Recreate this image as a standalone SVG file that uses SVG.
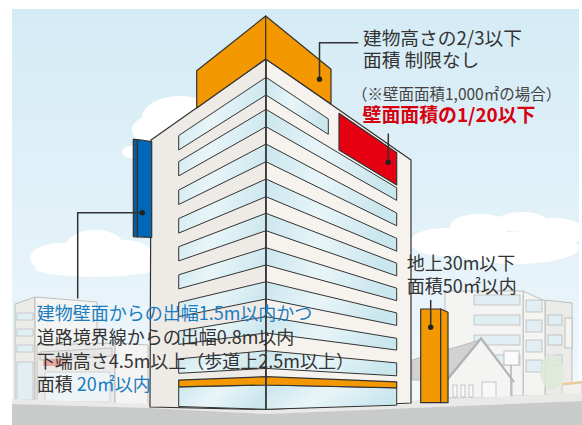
<svg xmlns="http://www.w3.org/2000/svg" width="582" height="425" viewBox="0 0 582 425">
<defs>
<linearGradient id="sky" x1="0" y1="0" x2="0" y2="1">
<stop offset="0" stop-color="#d4ebf5"/>
<stop offset="0.7" stop-color="#e8f4fa"/>
<stop offset="1" stop-color="#f4f9fc"/>
</linearGradient>
<linearGradient id="glass" x1="0" y1="0" x2="1" y2="0.3">
<stop offset="0" stop-color="#c9e6ed"/>
<stop offset="0.5" stop-color="#e8f5f8"/>
<stop offset="1" stop-color="#cbe7ee"/>
</linearGradient>
<style>
.ol{stroke:#333;stroke-width:1.2;stroke-linejoin:round}
.wl{fill:#eeeae5}
.wr{fill:#f6f3ef}
.gl{fill:url(#glass);stroke:#333;stroke-width:1;stroke-linejoin:round}
.org{fill:#f39800;stroke:#333;stroke-width:1.2;stroke-linejoin:round}
.bg{fill:#ebebea;stroke:#b3b3b3;stroke-width:0.8}
.bgw{fill:#f4f4f3;stroke:#b3b3b3;stroke-width:0.8}
.cl{fill:#ffffff}
.lead{fill:none;stroke:#333;stroke-width:1.5}
.dot{fill:#222}
.t{font-family:"Noto Sans CJK JP","Noto Sans",sans-serif;font-size:18px;fill:#333}
.tr{font-size:18.7px}
.s{font-size:15.5px;fill:#444}
.blue{fill:#1a7cc1}
.red{fill:#d7000f;font-weight:700;font-size:18.9px}
</style>
</defs>

<g id="background">
<rect x="12" y="9" width="567" height="416" fill="url(#sky)"/>
<g id="clouds">
<ellipse class="cl" cx="180" cy="118" rx="38" ry="22"/>
<ellipse class="cl" cx="152" cy="130" rx="20" ry="14"/>
<ellipse class="cl" cx="131" cy="152" rx="9" ry="6"/>
<ellipse class="cl" cx="60" cy="258" rx="30" ry="15"/>
<ellipse class="cl" cx="95" cy="248" rx="30" ry="18"/>
<ellipse class="cl" cx="125" cy="256" rx="28" ry="16"/>
<ellipse class="cl" cx="95" cy="268" rx="60" ry="9"/>
<ellipse class="cl" cx="480" cy="226" rx="30" ry="12"/>
<ellipse class="cl" cx="522" cy="222" rx="26" ry="10"/>
<ellipse class="cl" cx="555" cy="232" rx="30" ry="14"/>
<ellipse class="cl" cx="445" cy="242" rx="35" ry="14"/>
<ellipse class="cl" cx="515" cy="248" rx="64" ry="16"/>
</g>
<g id="bg-right">
<polygon class="bg" points="545,300 572,303 572,395 545,395"/>
<rect class="bgw" x="565" y="318" width="7" height="30"/>
<polygon class="bgw" points="523,291 545,301 545,396 523,396"/>
<polygon class="bgw" points="445,291 523,291 523,396 445,396"/>
<g fill="#e1eef3" stroke="#b3b3b3" stroke-width="0.7">
<rect x="474" y="295" width="46" height="10"/>
<rect x="474" y="315" width="46" height="10"/>
<rect x="474" y="335" width="46" height="10"/>
<rect x="474" y="355" width="46" height="10"/>
<rect x="526" y="300" width="16" height="12"/>
<rect x="526" y="320" width="16" height="12"/>
<rect x="526" y="340" width="16" height="12"/>
<rect x="526" y="360" width="16" height="12"/>
<rect x="548" y="315" width="14" height="10"/>
<rect x="548" y="335" width="14" height="10"/>
<rect x="548" y="355" width="14" height="10"/>
</g>
<polygon fill="#d2d2d2" stroke="#b3b3b3" stroke-width="0.8" points="412,360 470,343 480,340 448,380 412,380"/>
<polygon class="bgw" points="448,380 481,340 512,380 512,398 448,398"/>
<polyline fill="none" stroke="#b3b3b3" stroke-width="2" points="445,382 481,338 514,382"/>
<g fill="#f8f8f8" stroke="#b3b3b3" stroke-width="0.7">
<rect x="453" y="385" width="4" height="12"/>
<rect x="461" y="385" width="4" height="12"/>
<rect x="469" y="385" width="4" height="12"/>
<rect x="482" y="382" width="14" height="16"/>
</g>
<rect x="504" y="351" width="15" height="14" fill="#fafafa" stroke="#b3b3b3" stroke-width="0.8"/>
<line x1="511" y1="365" x2="511" y2="398" stroke="#b3b3b3" stroke-width="1.5"/>
<ellipse cx="552" cy="372" rx="12" ry="18" fill="#dfe8d8" opacity="0.8"/>
<polygon fill="#f3f1ee" stroke="#bdbdbd" stroke-width="0.7" points="562,385 582,383 582,396 562,397"/>
<line x1="562" y1="384" x2="582" y2="382" stroke="#f0c896" stroke-width="2"/>
</g>
<g id="bg-left">
<polygon class="bg" points="15,304 35,297 35,402 15,402"/>
<polygon class="bgw" points="35,297 97,302 97,402 35,402"/>
<g fill="#e1eef3" stroke="#b3b3b3" stroke-width="0.6">
<rect x="17" y="313" width="16" height="7"/>
<rect x="17" y="329" width="16" height="7"/>
<rect x="17" y="345" width="16" height="7"/>
<rect x="17" y="362" width="16" height="38"/>
</g>
<polygon class="bg" points="37,345 115,343 115,404 37,404"/>
<polygon fill="#e6e6e6" stroke="#b3b3b3" stroke-width="0.7" points="40,352 112,348 112,356 40,360"/>
<rect x="43" y="359" width="23" height="7" fill="#e6a9a2"/>
<rect x="45" y="372" width="65" height="30" fill="#eef3f5" stroke="#c0c0c0" stroke-width="0.6"/>
<polygon class="bgw" points="115,343 148,345 148,405 115,405"/>
</g>
<g id="ground">
<polygon fill="#e9e9e8" points="12,399 150,404 266,407 582,393 582,401 266,414 150,408 12,404"/>
<polygon fill="#c9caca" points="12,404 150,408 266,414 582,401 582,425 12,425"/>
</g>
</g>

<g id="main-building">
<polygon class="wl ol" points="266,59 151,140 150,407 266,409.5"/>
<polygon class="wr ol" points="266,59 411,160 411,403 266,409.5"/>
<g id="windows-left">
<polygon class="gl" points="178.7,135.6 266,77.3 266,95 178.7,150"/>
<polygon class="gl" points="178.7,161.7 266,109.3 266,126.7 178.7,175.9"/>
<polygon class="gl" points="178.7,190.1 266,144 266,161.7 178.7,204.5"/>
<polygon class="gl" points="178.7,218.6 266,179 266,196.7 178.7,233.1"/>
<polygon class="gl" points="178.7,246.7 266,213.3 266,230.7 178.7,260.9"/>
<polygon class="gl" points="178.7,274.8 266,247.7 266,265 178.7,288.9"/>
<polygon class="gl" points="178.7,302.5 266,281.7 266,299 178.7,316.6"/>
<polygon class="gl" points="178.7,331.1 266,316.7 266,333 178.7,344.4"/>
<polygon class="gl" points="178.7,358.9 266,350.7 266,368.4 178.7,373.3"/>
<polygon class="gl" points="178.7,386.9 266,385 266,409.3 178.7,406.5"/>
<polygon class="org" points="178.7,380.1 266,376.7 266,385 178.7,386.9"/>
</g>
<g id="windows-right">
<polygon class="gl" points="266,77.3 328.3,118.9 328.3,134.3 266,95"/>
<polygon class="gl" points="266,109.3 396.7,187.8 396.7,200.4 266,126.7"/>
<polygon class="gl" points="266,144 396.7,213 396.7,225.8 266,161.7"/>
<polygon class="gl" points="266,179 396.7,238.4 396.7,251.2 266,196.7"/>
<polygon class="gl" points="266,213.3 396.7,263.2 396.7,275.9 266,230.7"/>
<polygon class="gl" points="266,247.7 396.7,288.2 396.7,300.7 266,265"/>
<polygon class="gl" points="266,281.7 396.7,312.9 396.7,325.4 266,299"/>
<polygon class="gl" points="266,316.7 396.7,338.3 396.7,350.1 266,333"/>
<polygon class="gl" points="266,350.7 396.7,362.9 396.7,375.8 266,368.4"/>
<polygon class="gl" points="266,385 396.7,387.8 396.7,405.2 266,409.3"/>
<polygon class="org" points="266,376.7 396.7,381.8 396.7,387.8 266,385"/>
</g>
<line x1="266" y1="59" x2="266" y2="409.5" stroke="#333" stroke-width="1.4"/>
</g>

<g id="roof-sign">
<polygon class="org" points="196.7,70.7 265.7,16 265.7,59 196.7,107.9"/>
<polygon class="org" points="265.7,16 331,69.3 331,104 265.7,59"/>
</g>

<g id="wall-sign">
<polygon fill="#e60012" stroke="#333" stroke-width="1.2" stroke-linejoin="round" points="339,113.3 396.7,152.7 396.7,185 339,150"/>
</g>

<g id="projecting-sign">
<polygon fill="#0a5a9e" stroke="#333" stroke-width="1.2" stroke-linejoin="round" points="133.3,139.3 137.5,139.5 137.5,236.8 133.3,236.6"/>
<polygon fill="#0068b7" stroke="#333" stroke-width="1.2" stroke-linejoin="round" points="137.5,139.5 151.7,141.7 151.7,237.3 137.5,236.8"/>
</g>

<g id="pylon-sign">
<polygon class="org" points="420.7,309 440.7,309 440.7,402.7 420.7,402.7"/>
<polygon class="org" points="440.7,309 448,312.3 448,402.7 440.7,402.7"/>
</g>

<g id="connectors">
<polyline class="lead" points="319.5,79.3 319.5,42.7 358.3,42.7"/>
<circle class="dot" cx="319.5" cy="79.3" r="2.7"/>
<polyline class="lead" points="388.3,133.5 388.3,162.3"/>
<circle class="dot" cx="388.3" cy="162.3" r="2.7"/>
<polyline class="lead" points="142.3,212.7 77.7,212.7 77.7,298.5"/>
<circle class="dot" cx="142.3" cy="212.7" r="2.7"/>
<polyline class="lead" points="430.7,327.3 430.7,300"/>
<circle class="dot" cx="430.7" cy="327.3" r="2.7"/>
</g>

<g id="labels">
<text class="t tr" x="363" y="45">建物高さの2/3以下</text>
<text class="t tr" x="363" y="67">面積 制限なし</text>
<text class="t s" x="352" y="100">（※壁面面積1,000㎡の場合）</text>
<text class="t red" x="362.5" y="121.5">壁面面積の1/20以下</text>
<text class="t" x="406.7" y="270">地上30m以下</text>
<text class="t" x="406.7" y="293">面積50㎡以内</text>
<text class="t blue" x="36.7" y="320">建物壁面からの出幅1.5m以内かつ</text>
<text class="t" x="36.7" y="343.5">道路境界線からの出幅0.8m以内</text>
<text class="t" x="36.7" y="368">下端高さ4.5m以上（歩道上2.5m以上）</text>
<text class="t" x="36.7" y="391">面積 <tspan class="blue">20㎡以内</tspan></text>
</g>
</svg>
